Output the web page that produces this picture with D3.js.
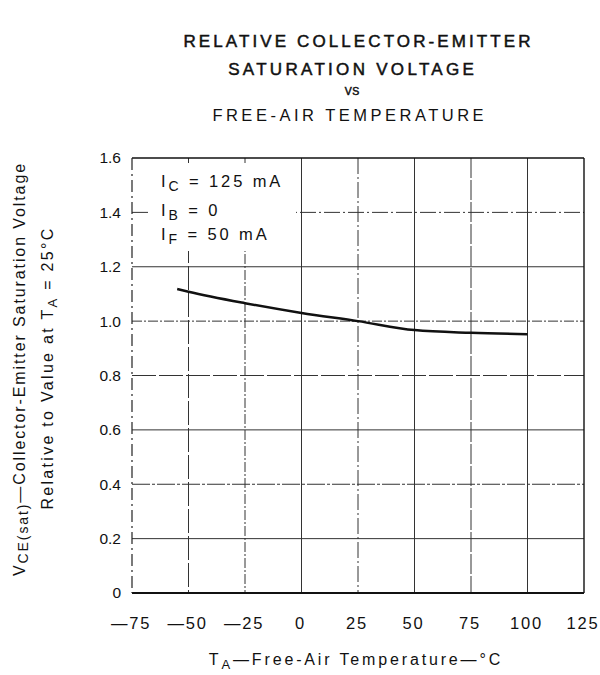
<!DOCTYPE html>
<html>
<head>
<meta charset="utf-8">
<script src="https://cdn.jsdelivr.net/npm/d3@7"></script>
<style>
  body { margin: 0; background: #fff; }
  svg text { font-family: "Liberation Sans", Arial, Helvetica, sans-serif; fill: #111; }
</style>
</head>
<body>
<div id="chart"></div>
<script>
// values
const temps = [-55, -50, -25, 0, 25, 50, 75, 100];
const relVce = [1.118, 1.108, 1.066, 1.030, 1.000, 0.967, 0.957, 0.952];

const xTicks = [-75, -50, -25, 0, 25, 50, 75, 100, 125];
const yTicks = [0, 0.2, 0.4, 0.6, 0.8, 1.0, 1.2, 1.4, 1.6];

const titleLines = ['RELATIVE COLLECTOR-EMITTER', 'SATURATION VOLTAGE', 'VS', 'FREE-AIR TEMPERATURE'];

const width = 600, height = 675;
const margin = { top: 158, right: 16, bottom: 82, left: 132 };

const svg = d3.select('#chart').append('svg')
    .attr('width', width)
    .attr('height', height);

const x = d3.scaleLinear().domain([-75, 125]).range([margin.left, width - margin.right]);
const y = d3.scaleLinear().domain([0, 1.6]).range([height - margin.bottom, margin.top]);

// title
const titleY = [47, 75, 95, 121];
const titleX = [357, 351, 352, 348];
const titleSize = [17, 17, 10.5, 16.5];
const titleStroke = [0.5, 0.5, 0.5, 0];
const titleSpacing = [3.1, 3.3, 0.5, 3.5];
titleLines.forEach((t, i) => {
    svg.append('text')
        .attr('x', titleX[i] + titleSpacing[i] / 2)
        .attr('y', titleY[i])
        .attr('text-anchor', 'middle')
        .style('font-size', titleSize[i] + 'px')
        .style('letter-spacing', titleSpacing[i] + 'px')
        .style('stroke', '#111')
        .style('stroke-width', titleStroke[i])
        .text(t);
});

// grid lines, broken like the scanned original
const dashes = ['none', '18,2,3,2', 'none', '24,3', '10,2,2,2', 'none', '16,3,2,3', 'none', '20,2'];

const grid = svg.append('g').attr('class', 'grid');

grid.selectAll('.vline')
    .data(xTicks.slice(1, -1))
    .enter()
    .append('line')
    .attr('x1', d => x(d))
    .attr('x2', d => x(d))
    .attr('y1', y(1.6))
    .attr('y2', y(0))
    .style('stroke', '#333')
    .style('stroke-width', 1)
    .style('stroke-dasharray', (d, i) => dashes[(i + 3) % dashes.length]);

grid.selectAll('.hline')
    .data(yTicks.slice(1, -1))
    .enter()
    .append('line')
    .attr('x1', x(-75))
    .attr('x2', x(125))
    .attr('y1', d => y(d))
    .attr('y2', d => y(d))
    .style('stroke', '#333')
    .style('stroke-width', 1)
    .style('stroke-dasharray', (d, i) => dashes[i % dashes.length]);

// frame
svg.append('line')
    .attr('x1', x(-75)).attr('x2', x(125)).attr('y1', y(1.6)).attr('y2', y(1.6))
    .style('stroke', '#111').style('stroke-width', 1.6);
svg.append('line')
    .attr('x1', x(-75)).attr('x2', x(125)).attr('y1', y(0)).attr('y2', y(0))
    .style('stroke', '#111').style('stroke-width', 1.8);
svg.append('line')
    .attr('x1', x(125)).attr('x2', x(125)).attr('y1', y(1.6)).attr('y2', y(0))
    .style('stroke', '#111').style('stroke-width', 1.4);
svg.append('line')
    .attr('x1', x(-75)).attr('x2', x(-75)).attr('y1', y(1.6)).attr('y2', y(0))
    .style('stroke', '#222').style('stroke-width', 1.2)
    .style('stroke-dasharray', '12,4,2,4');

// blank area behind the conditions text
svg.append('rect')
    .attr('x', 150).attr('y', 163)
    .attr('width', 146).attr('height', 88)
    .style('fill', '#fff');

// axes (labels only)
const xAxis = svg.append('g')
    .attr('transform', `translate(0,${y(0) + 27})`)
    .call(d3.axisBottom(x).tickValues(xTicks).tickSize(0)
        .tickFormat(d => d < 0 ? '\u2014' + Math.abs(d) : String(d)));
xAxis.select('.domain').remove();
xAxis.selectAll('text')
    .style('font-size', '16.5px')
    .style('letter-spacing', '1.8px')
    .attr('dx', -1.5)
    .attr('dy', '0.35em');

const yAxis = svg.append('g')
    .attr('transform', `translate(${x(-75) - 8},0)`)
    .call(d3.axisLeft(y).tickValues(yTicks).tickSize(0)
        .tickFormat(d => d === 0 ? '0' : d.toFixed(1)));
yAxis.select('.domain').remove();
yAxis.selectAll('text')
    .style('font-size', '15.5px');

// curve
const line = d3.line()
    .x((d, i) => x(temps[i]))
    .y(d => y(d))
    .curve(d3.curveMonotoneX);

svg.append('path')
    .datum(relVce)
    .attr('d', line)
    .style('fill', 'none')
    .style('stroke', '#111')
    .style('stroke-width', 2.5);

// test conditions
const conds = [['C', ' = 125 mA'], ['B', ' = 0'], ['F', ' = 50 mA']];
const condY = [187, 216, 240];
conds.forEach((c, i) => {
    const t = svg.append('text')
        .attr('x', 161)
        .attr('y', condY[i])
        .style('font-size', '16.5px')
        .style('letter-spacing', '2.9px');
    t.append('tspan').text('I');
    t.append('tspan').attr('dy', 4).style('font-size', '14px').text(c[0]);
    t.append('tspan').attr('dy', -4).text(c[1]);
});

// x axis title
const xt = svg.append('text')
    .attr('x', 356)
    .attr('y', 665)
    .attr('text-anchor', 'middle')
    .style('font-size', '16px')
    .style('letter-spacing', '2.85px');
xt.append('tspan').text('T');
xt.append('tspan').attr('dy', 4).style('font-size', '13px').text('A');
xt.append('tspan').attr('dy', -4).text('\u2014Free-Air Temperature\u2014\u00B0C');

// y axis title, two rotated lines
const yt1 = svg.append('text')
    .attr('transform', 'translate(25,369) rotate(-90)')
    .attr('text-anchor', 'middle')
    .style('font-size', '16px')
    .style('letter-spacing', '1.9px');
yt1.append('tspan').text('V');
yt1.append('tspan').style('font-size', '14px').attr('dy', 3).text('CE(sat)');
yt1.append('tspan').attr('dy', -3).text('\u2014Collector-Emitter Saturation Voltage');

const yt2 = svg.append('text')
    .attr('transform', 'translate(53,368) rotate(-90)')
    .attr('text-anchor', 'middle')
    .style('font-size', '16px')
    .style('letter-spacing', '2.3px');
yt2.append('tspan').text('Relative to Value at T');
yt2.append('tspan').style('font-size', '13px').attr('dy', 4).text('A');
yt2.append('tspan').attr('dy', -4).text(' = 25\u00B0C');
</script>
</body>
</html>
